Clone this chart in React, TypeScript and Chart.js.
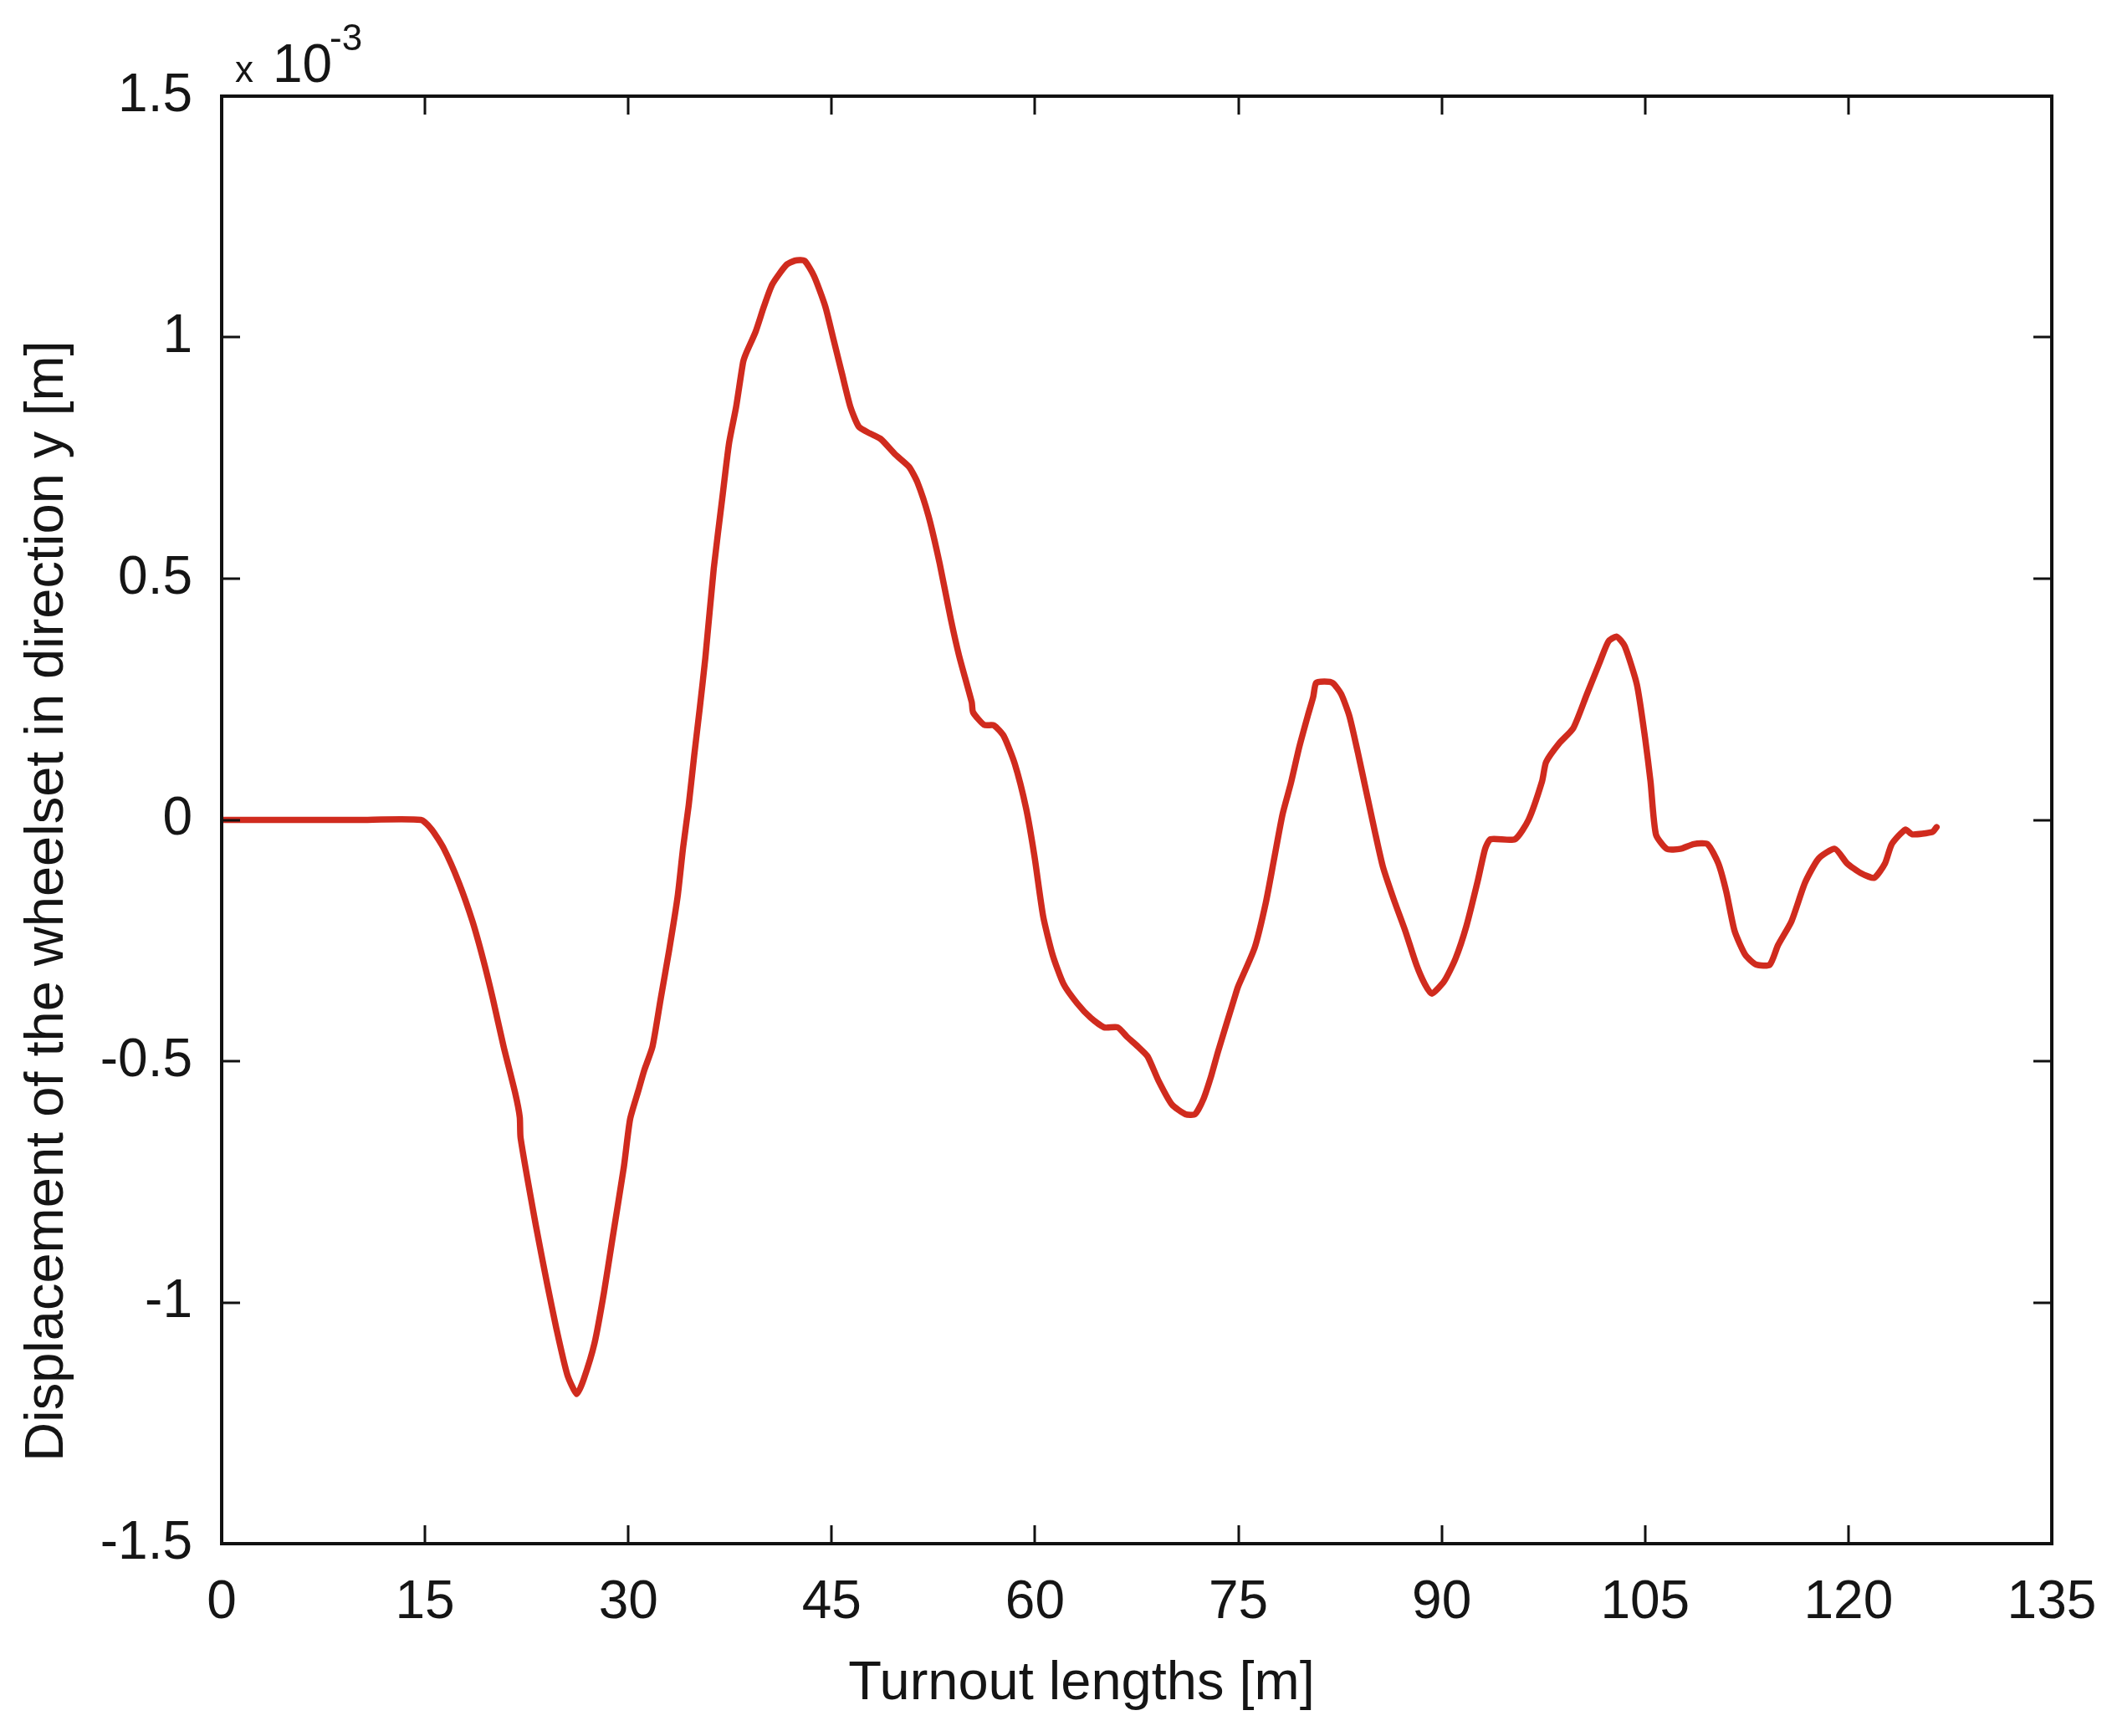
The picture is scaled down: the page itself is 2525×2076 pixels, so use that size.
import React, { useEffect, useRef } from "react";
import { Chart, registerables } from "chart.js";

Chart.register(...registerables);

// Turnout length [m]
const xValues: number[] = [
  0, 5, 10, 14.7, 15.5, 16.4, 17.5, 18.5, 19.3, 20.0, 20.8, 21.66, 21.99, 22.05,
  23.18, 24.0, 24.69, 25.5, 26.2, 26.7, 27.51, 28.2, 28.81, 29.67, 30.13, 30.75,
  31.16, 31.78, 32.39, 33.01, 33.63, 34.04, 34.45, 34.86, 35.27, 35.68, 36.3,
  36.92, 37.43, 37.95, 38.46, 38.67, 39.39, 40.0, 40.62, 41.65, 42.27, 42.99,
  43.7, 44.53, 45.15, 45.76, 46.38, 47.0, 47.82, 48.64, 49.67, 50.7, 51.32,
  52.14, 52.96, 53.78, 54.4, 55.33, 55.43, 56.25, 56.97, 57.69, 58.51, 59.34,
  59.95, 60.6, 61.3, 62.1, 63.1, 64.1, 65.1, 66.1, 66.8, 67.6, 68.3, 69.1, 70.1,
  71.1, 71.8, 72.4, 73.0, 73.5, 74.7, 74.97, 76.2, 77.02, 77.64, 78.26, 78.87,
  79.49, 80.11, 80.52, 80.73, 81.34, 81.96, 82.58, 83.19, 83.81, 84.43, 85.05,
  85.66, 86.49, 87.31, 88.13, 88.75, 89.26, 90.19, 91.01, 91.83, 92.66, 93.2,
  93.6, 95.4, 96.4, 97.4, 97.7, 98.7, 99.7, 100.7, 101.7, 102.3, 102.9, 103.5,
  104.4, 105.0, 105.4, 105.8, 106.6, 107.6, 108.6, 109.6, 110.4, 111.0, 111.6,
  112.4, 113.2, 114.2, 114.8, 115.8, 116.8, 117.8, 119.0, 119.9, 120.9, 121.9,
  122.7, 123.2, 124.2, 124.7, 126.2, 126.5,
];

// Displacement of the wheelset in direction y [x 10^-3 m]
const yValues: number[] = [
  0, 0, 0, 0, -0.02, -0.06, -0.13, -0.21, -0.29, -0.37, -0.47, -0.567, -0.616,
  -0.659, -0.841, -0.96, -1.054, -1.15, -1.19, -1.16, -1.084, -0.98, -0.871,
  -0.719, -0.62, -0.56, -0.52, -0.47, -0.37, -0.27, -0.16, -0.057, 0.03, 0.134,
  0.232, 0.336, 0.521, 0.665, 0.781, 0.856, 0.948, 0.966, 1.012, 1.064, 1.11,
  1.15, 1.159, 1.159, 1.127, 1.064, 0.994, 0.925, 0.856, 0.815, 0.801, 0.789,
  0.758, 0.732, 0.7, 0.63, 0.532, 0.417, 0.34, 0.244, 0.223, 0.197, 0.196,
  0.174, 0.116, 0.024, -0.074, -0.2, -0.28, -0.34, -0.38, -0.41, -0.43, -0.43,
  -0.45, -0.47, -0.49, -0.54, -0.59, -0.61, -0.61, -0.58, -0.53, -0.48, -0.37,
  -0.346, -0.265, -0.172, -0.08, 0.012, 0.076, 0.151, 0.215, 0.255, 0.284,
  0.287, 0.284, 0.261, 0.215, 0.14, 0.059, -0.022, -0.097, -0.167, -0.23, -0.3,
  -0.34, -0.36, -0.334, -0.288, -0.219, -0.126, -0.06, -0.04, -0.04, 0.0,
  0.08, 0.12, 0.16, 0.19, 0.26, 0.33, 0.37, 0.38, 0.36, 0.28, 0.17, 0.08, -0.03,
  -0.06, -0.06, -0.05, -0.05, -0.09, -0.15, -0.23, -0.28, -0.3, -0.3, -0.26,
  -0.21, -0.13, -0.08, -0.06, -0.09, -0.11, -0.12, -0.09, -0.05, -0.02, -0.03,
  -0.025, -0.015,
];

const xTicks: number[] = [0, 15, 30, 45, 60, 75, 90, 105, 120, 135];
const yTicks: number[] = [-1.5, -1, -0.5, 0, 0.5, 1, 1.5];
const xTitle = "Turnout lengths [m]";
const yTitle = "Displacement of the wheelset in direction y [m]";
const multiplierBase = "10";
const multiplierExp = "-3";

const FONT = '"Liberation Sans", Arial, Helvetica, sans-serif';
const TEXT = "#151515";
const LINE = "#d02b1e";

const framePlugin = {
  id: "matlabFrame",
  afterDraw(chart: any) {
    const { ctx, chartArea } = chart;
    const { left, right, top, bottom } = chartArea;
    const xs = chart.scales.x;
    const ys = chart.scales.y;
    ctx.save();
    ctx.strokeStyle = "#111";
    ctx.lineWidth = 3;
    const tl = 22;
    ctx.beginPath();
    xs.ticks.forEach((t: any) => {
      const p = Math.round(xs.getPixelForValue(t.value));
      ctx.moveTo(p, bottom);
      ctx.lineTo(p, bottom - tl);
      ctx.moveTo(p, top);
      ctx.lineTo(p, top + tl);
    });
    ys.ticks.forEach((t: any) => {
      const p = Math.round(ys.getPixelForValue(t.value));
      ctx.moveTo(left, p);
      ctx.lineTo(left + tl, p);
      ctx.moveTo(right, p);
      ctx.lineTo(right - tl, p);
    });
    ctx.stroke();
    ctx.lineWidth = 4;
    ctx.strokeRect(left, top, right - left, bottom - top);

    ctx.fillStyle = TEXT;
    // x-axis title
    ctx.font = `65px ${FONT}`;
    ctx.textAlign = "center";
    ctx.textBaseline = "alphabetic";
    ctx.fillText(xTitle, (left + right) / 2 - 66, bottom + 186);
    // y-axis title
    ctx.save();
    ctx.translate(left - 190, (top + bottom) / 2 + 97);
    ctx.rotate(-Math.PI / 2);
    ctx.fillText(yTitle, 0, 0);
    ctx.restore();
    // exponent multiplier
    ctx.textAlign = "left";
    ctx.font = `44px ${FONT}`;
    ctx.fillText("x", left + 16, top - 17);
    ctx.font = `64px ${FONT}`;
    ctx.fillText(multiplierBase, left + 61, top - 17);
    ctx.font = `44px ${FONT}`;
    ctx.fillText(multiplierExp, left + 129, top - 55);
    ctx.restore();
  },
};

export default function App() {
  const canvasRef = useRef<HTMLCanvasElement | null>(null);

  useEffect(() => {
    const canvas = canvasRef.current;
    if (!canvas) return;
    const points = xValues.map((x, i) => ({ x, y: yValues[i] }));
    const chart = new Chart(canvas, {
      type: "scatter",
      data: {
        datasets: [
          {
            data: points,
            showLine: true,
            borderColor: LINE,
            backgroundColor: LINE,
            borderWidth: 7.5,
            pointRadius: 0,
            tension: 0.2,
            borderJoinStyle: "round",
            borderCapStyle: "round",
          } as any,
        ],
      },
      options: {
        animation: false,
        responsive: true,
        maintainAspectRatio: false,
        layout: { padding: { top: 115, right: 72, left: 0, bottom: 0 } },
        plugins: {
          legend: { display: false },
          tooltip: { enabled: false },
          title: { display: false },
        },
        scales: {
          x: {
            type: "linear",
            min: 0,
            max: 135,
            grid: { display: false, drawTicks: false },
            border: { display: false },
            afterBuildTicks: (scale: any) => {
              scale.ticks = xTicks.map((v) => ({ value: v }));
            },
            afterFit: (scale: any) => {
              scale.height = 230;
              scale.paddingLeft = 0;
              scale.paddingRight = 0;
            },
            ticks: {
              autoSkip: false,
              maxRotation: 0,
              padding: 33,
              color: TEXT,
              font: { family: FONT, size: 64 },
              callback: (v: any) => String(v),
            },
          },
          y: {
            type: "linear",
            min: -1.5,
            max: 1.5,
            grid: { display: false, drawTicks: false },
            border: { display: false },
            afterBuildTicks: (scale: any) => {
              scale.ticks = yTicks.map((v) => ({ value: v }));
            },
            afterFit: (scale: any) => {
              scale.width = 265;
              scale.paddingTop = 0;
              scale.paddingBottom = 0;
            },
            ticks: {
              autoSkip: false,
              padding: 35,
              color: TEXT,
              font: { family: FONT, size: 64 },
              callback: (v: any) => String(v),
            },
          },
        },
      },
      plugins: [framePlugin],
    });
    return () => chart.destroy();
  }, []);

  return (
    <div
      style={{
        position: "fixed",
        left: 0,
        top: 0,
        width: 2525,
        height: 2076,
        background: "#fff",
      }}
    >
      <canvas ref={canvasRef} />
    </div>
  );
}
